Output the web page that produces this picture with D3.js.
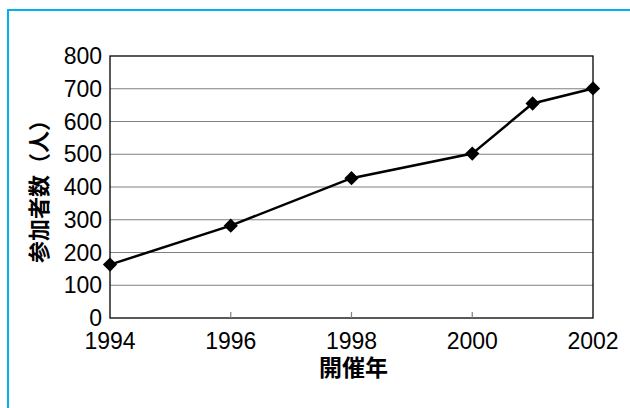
<!DOCTYPE html>
<html>
<head>
<meta charset="utf-8">
<script src="https://cdn.jsdelivr.net/npm/d3@7"></script>
<style>
  body { margin: 0; background: #fff; }
  svg { display: block; }
  text { font-family: "Liberation Sans", Arial, sans-serif; fill: #000; }
</style>
</head>
<body>
<div id="chart"></div>
<script>
// Data
const years = [1994, 1996, 1998, 2000, 2001, 2002];
const participants = [163, 282, 427, 502, 655, 701];
const xTickYears = [1994, 1996, 1998, 2000, 2002];
const yTicks = [0, 100, 200, 300, 400, 500, 600, 700, 800];
const xTitle = "開催年";
const yTitle = "参加者数（人）";

const W = 630, H = 408;
const plot = { left: 110, right: 593, top: 56, bottom: 318 };

const svg = d3.select("#chart").append("svg")
  .attr("width", W)
  .attr("height", H);

// Outer frame (only top and left edges are visible in the picture)
svg.append("rect")
  .attr("x", 8).attr("y", 10)
  .attr("width", 640).attr("height", 420)
  .attr("fill", "none")
  .attr("stroke", "#00b0f0")
  .attr("stroke-width", 2);

const x = d3.scaleLinear().domain([1994, 2002]).range([plot.left, plot.right]);
const y = d3.scaleLinear().domain([0, 800]).range([plot.bottom, plot.top]);

// Horizontal gridlines
svg.append("g")
  .selectAll("line")
  .data(yTicks.filter(d => d > 0 && d < 800))
  .join("line")
  .attr("x1", plot.left).attr("x2", plot.right)
  .attr("y1", d => y(d)).attr("y2", d => y(d))
  .attr("stroke", "#808080")
  .attr("stroke-width", 1.2);

// Plot border
svg.append("rect")
  .attr("x", plot.left).attr("y", plot.top)
  .attr("width", plot.right - plot.left)
  .attr("height", plot.bottom - plot.top)
  .attr("fill", "none")
  .attr("stroke", "#000")
  .attr("stroke-width", 1.3);

// Y axis labels
svg.append("g")
  .selectAll("text")
  .data(yTicks)
  .join("text")
  .attr("x", plot.left - 8)
  .attr("y", d => y(d))
  .attr("dy", "0.35em")
  .attr("text-anchor", "end")
  .style("font-size", "23px")
  .text(d => d);

// X axis ticks (inward) and labels
svg.append("g")
  .selectAll("line")
  .data(xTickYears.slice(1, -1))
  .join("line")
  .attr("x1", d => x(d)).attr("x2", d => x(d))
  .attr("y1", plot.bottom).attr("y2", plot.bottom - 6)
  .attr("stroke", "#808080")
  .attr("stroke-width", 1.2);

svg.append("g")
  .selectAll("text")
  .data(xTickYears)
  .join("text")
  .attr("x", d => x(d))
  .attr("y", 349)
  .attr("text-anchor", "middle")
  .style("font-size", "23px")
  .text(d => d);

// Axis titles
svg.append("text")
  .attr("x", (plot.left + plot.right) / 2 + 2)
  .attr("y", 376)
  .attr("text-anchor", "middle")
  .style("font-family", "'Noto Sans CJK JP', sans-serif")
  .style("font-size", "23px")
  .style("font-weight", "bold")
  .text(xTitle);

svg.append("text")
  .attr("transform", "translate(47, 186) rotate(-90)")
  .attr("text-anchor", "middle")
  .style("font-family", "'Noto Sans CJK JP', sans-serif")
  .style("font-size", "22px")
  .style("font-weight", "bold")
  .text(yTitle);

// Series line and diamond markers
const points = years.map((yr, i) => [yr, participants[i]]);

svg.append("path")
  .datum(points)
  .attr("fill", "none")
  .attr("stroke", "#000")
  .attr("stroke-width", 2.5)
  .attr("d", d3.line().x(d => x(d[0])).y(d => y(d[1])));

svg.append("g")
  .selectAll("path")
  .data(points)
  .join("path")
  .attr("transform", d => `translate(${x(d[0])},${y(d[1])})`)
  .attr("d", d3.symbol(d3.symbolDiamond2, 130)())
  .attr("fill", "#000");
</script>
</body>
</html>
